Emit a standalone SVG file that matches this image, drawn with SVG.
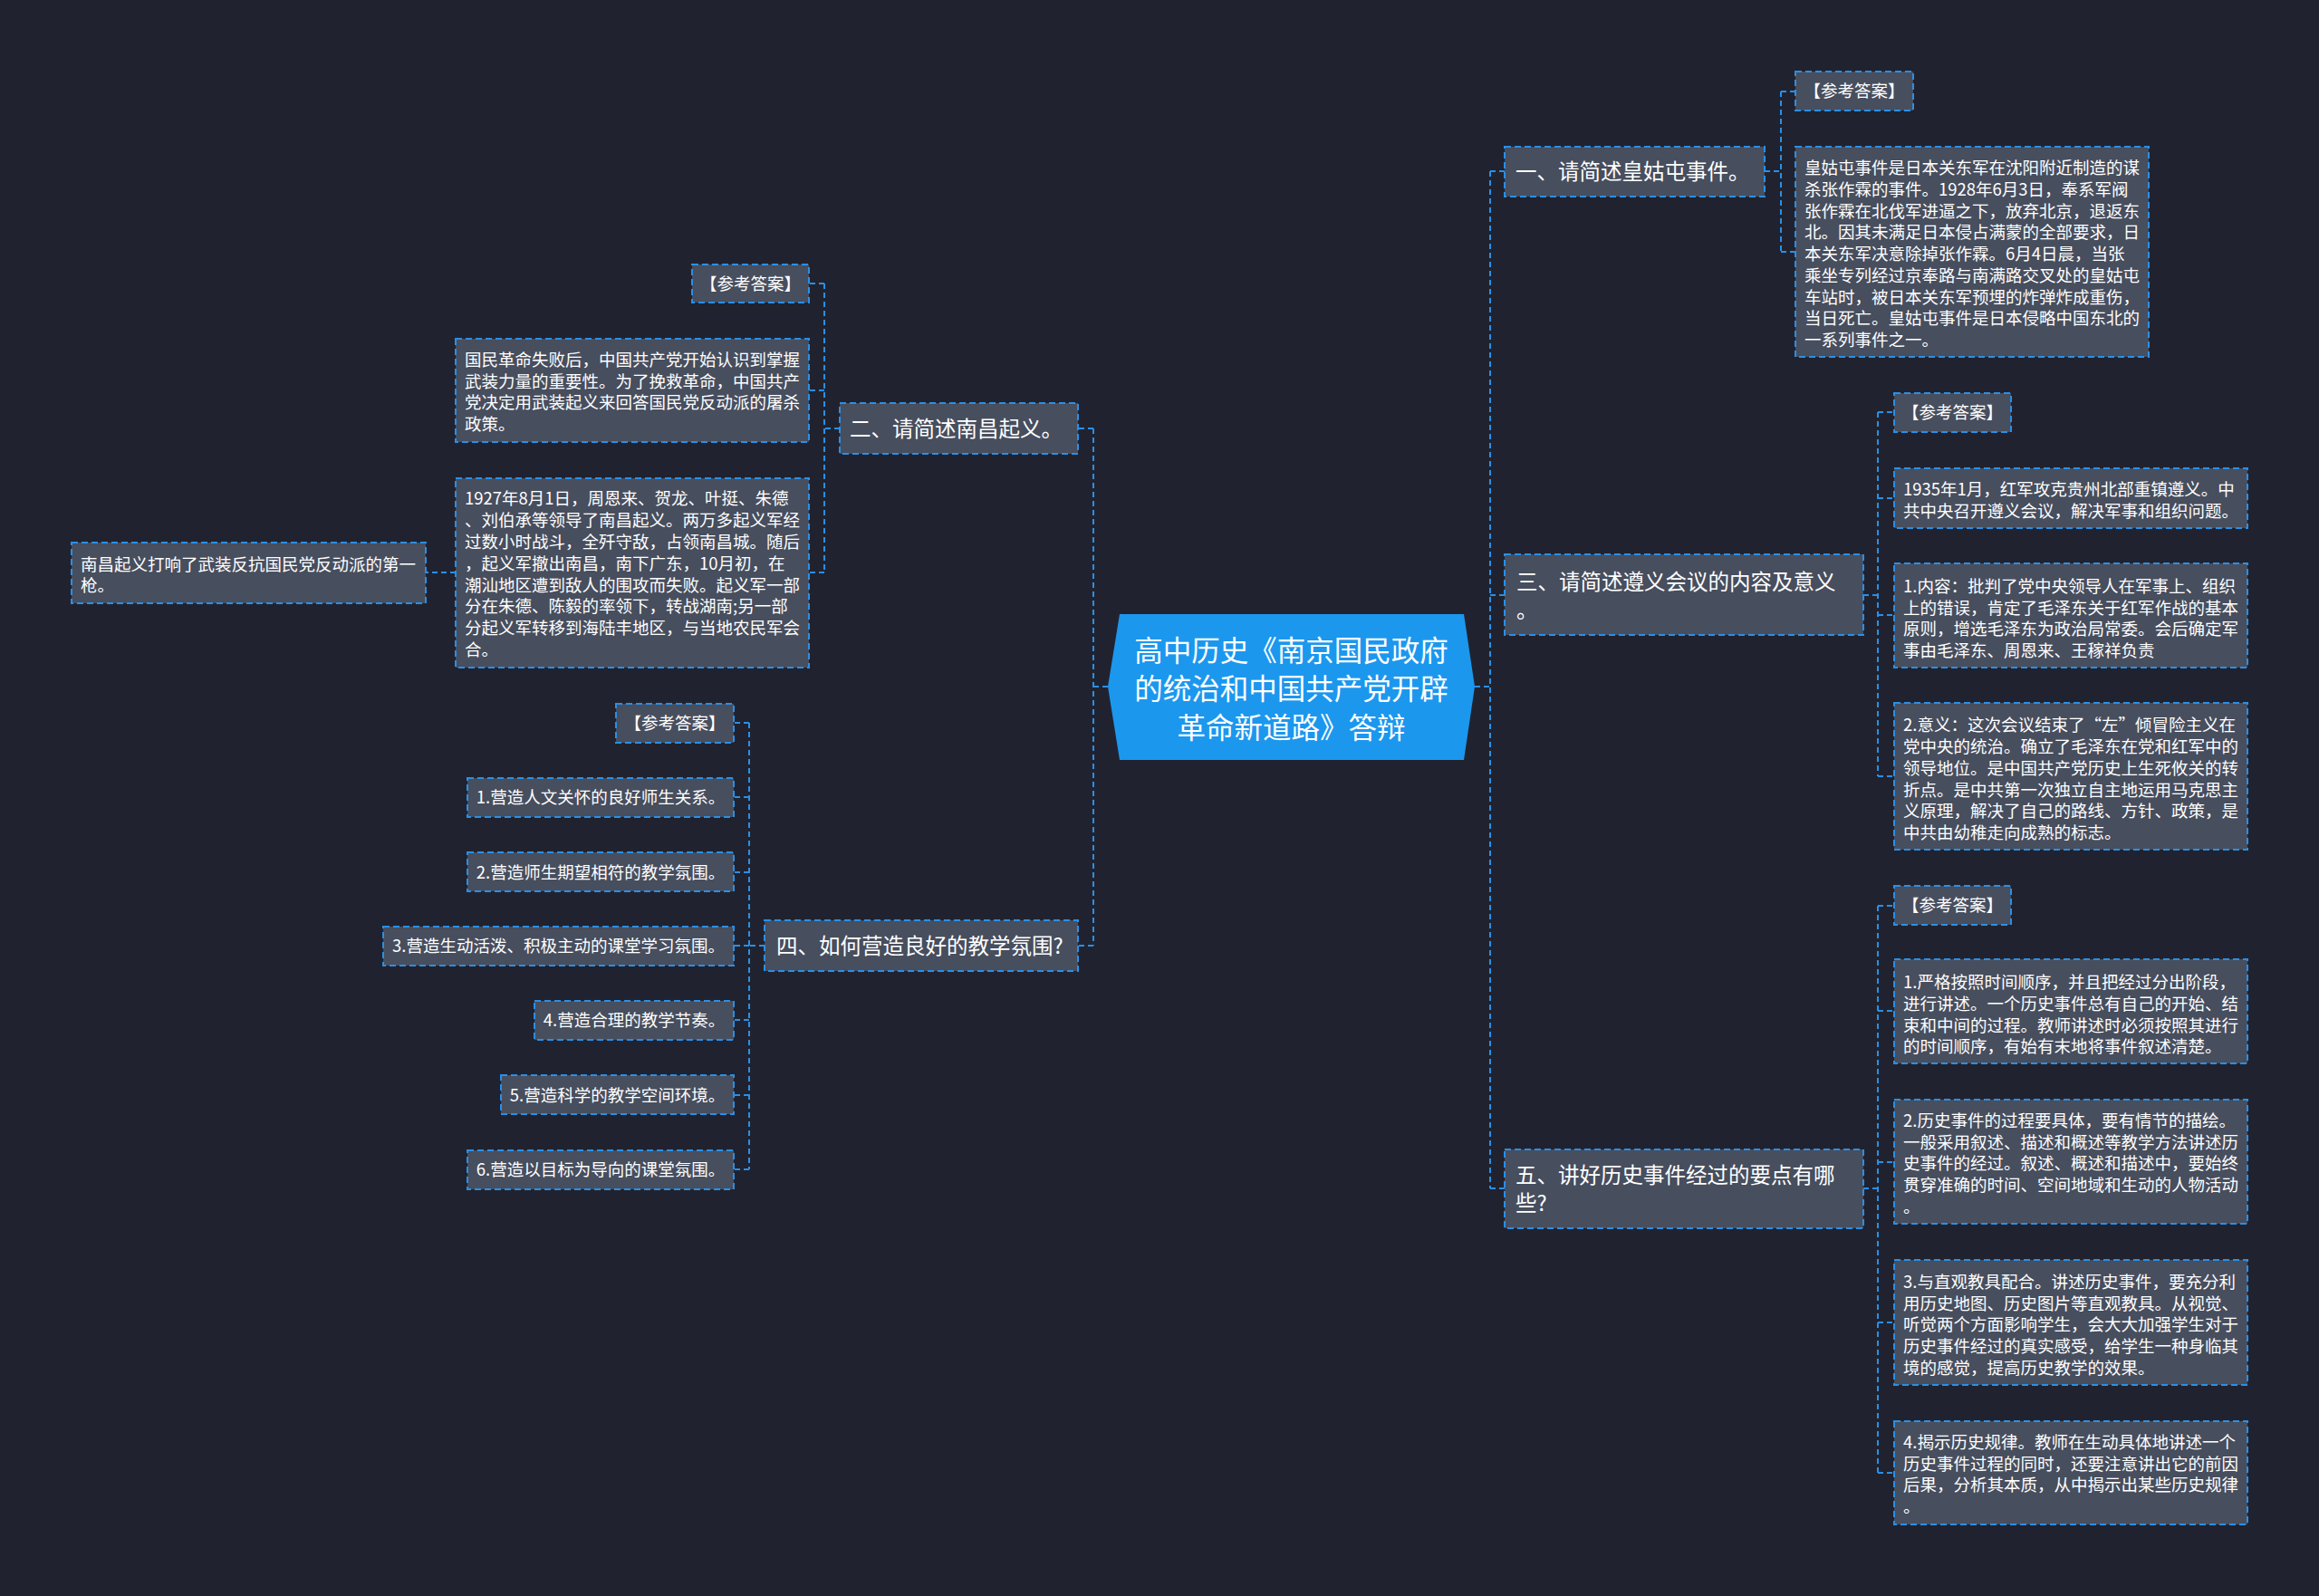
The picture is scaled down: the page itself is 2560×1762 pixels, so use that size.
<svg xmlns="http://www.w3.org/2000/svg" width="2560" height="1762" viewBox="0 0 2560 1762">
<defs>
<style>
.bg{fill:#20232f}
.box{fill:#474e5e;stroke:#2a8fe6;stroke-width:2;stroke-dasharray:7 4}
.con{fill:none;stroke:#2a8fe6;stroke-width:2;stroke-dasharray:6 4}
.t{font-family:"Noto Sans CJK SC","Noto Sans",sans-serif;fill:#ffffff}
.s{font-size:18.5px}
.m{font-size:23.5px}
.c{font-size:31.5px;text-anchor:middle}
.mid{text-anchor:middle}
</style>
</defs>
<rect class="bg" x="0" y="0" width="2560" height="1762"/>

<g id="connectors">
<path class="con" d="M1223 758H1207M1207 473V1044M1207 473H1190M1207 1044H1190"/>
<path class="con" d="M1628 758H1645M1645 189V1312M1645 189H1661M1645 657H1661M1645 1312H1661"/>
<path class="con" d="M927 473H910M910 313V632M910 313H893M910 431H893M910 632H893M503 632H470"/>
<path class="con" d="M844 1044H827M827 798V1291M827 798H810M827 880H810M827 963H810M827 1044H810M827 1126H810M827 1209H810M827 1291H810"/>
<path class="con" d="M1948 189H1966M1966 101V278M1966 101H1982M1966 278H1982"/>
<path class="con" d="M2057 657H2073M2073 455V857M2073 455H2091M2073 550H2091M2073 679H2091M2073 857H2091"/>
<path class="con" d="M2057 1312H2073M2073 1000V1626M2073 1000H2091M2073 1116H2091M2073 1283H2091M2073 1460H2091M2073 1626H2091"/>
</g>

<g id="root">
<polygon points="1223,758 1236,678 1616,678 1628,758 1616,839 1236,839" fill="#1c97ee"/>
<text class="t c" x="1425.5" y="730">高中历史《南京国民政府</text>
<text class="t c" x="1425.5" y="772">的统治和中国共产党开辟</text>
<text class="t c" x="1425.5" y="815">革命新道路》答辩</text>
</g>

<!-- Left: 二 -->
<g id="n2">
<rect class="box" x="927" y="445" width="263" height="56"/>
<text class="t m" x="938" y="482">二、请简述南昌起义。</text>
</g>
<g id="n2a">
<rect class="box" x="764" y="292" width="129" height="42"/>
<text class="t s mid" x="828.5" y="320">【参考答案】</text>
</g>
<g id="n2b">
<rect class="box" x="503" y="374" width="390" height="114"/>
<text class="t s" x="513" y="404">国民革命失败后，中国共产党开始认识到掌握</text>
<text class="t s" x="513" y="428">武装力量的重要性。为了挽救革命，中国共产</text>
<text class="t s" x="513" y="451">党决定用武装起义来回答国民党反动派的屠杀</text>
<text class="t s" x="513" y="475">政策。</text>
</g>
<g id="n2c">
<rect class="box" x="503" y="528" width="390" height="209"/>
<text class="t s" x="513" y="557">1927年8月1日，周恩来、贺龙、叶挺、朱德</text>
<text class="t s" x="513" y="581">、刘伯承等领导了南昌起义。两万多起义军经</text>
<text class="t s" x="513" y="605">过数小时战斗，全歼守敌，占领南昌城。随后</text>
<text class="t s" x="513" y="629">，起义军撤出南昌，南下广东，10月初，在</text>
<text class="t s" x="513" y="653">潮汕地区遭到敌人的围攻而失败。起义军一部</text>
<text class="t s" x="513" y="676">分在朱德、陈毅的率领下，转战湖南;另一部</text>
<text class="t s" x="513" y="700">分起义军转移到海陆丰地区，与当地农民军会</text>
<text class="t s" x="513" y="724">合。</text>
</g>
<g id="n2c1">
<rect class="box" x="79" y="599" width="391" height="67"/>
<text class="t s" x="89" y="630">南昌起义打响了武装反抗国民党反动派的第一</text>
<text class="t s" x="89" y="653">枪。</text>
</g>

<!-- Left: 四 -->
<g id="n4">
<rect class="box" x="844" y="1016" width="346" height="56"/>
<text class="t m" x="857" y="1053">四、如何营造良好的教学氛围?</text>
</g>
<g id="n4a">
<rect class="box" x="680" y="777" width="130" height="43"/>
<text class="t s mid" x="745" y="805">【参考答案】</text>
</g>
<g id="n4b">
<rect class="box" x="516" y="859" width="294" height="43"/>
<text class="t s mid" x="663" y="887">1.营造人文关怀的良好师生关系。</text>
</g>
<g id="n4c">
<rect class="box" x="516" y="941" width="294" height="43"/>
<text class="t s mid" x="663" y="970">2.营造师生期望相符的教学氛围。</text>
</g>
<g id="n4d">
<rect class="box" x="423" y="1023" width="387" height="43"/>
<text class="t s mid" x="616.5" y="1051">3.营造生动活泼、积极主动的课堂学习氛围。</text>
</g>
<g id="n4e">
<rect class="box" x="590" y="1105" width="220" height="43"/>
<text class="t s mid" x="700" y="1133">4.营造合理的教学节奏。</text>
</g>
<g id="n4f">
<rect class="box" x="553" y="1187" width="257" height="43"/>
<text class="t s mid" x="681.5" y="1216">5.营造科学的教学空间环境。</text>
</g>
<g id="n4g">
<rect class="box" x="516" y="1270" width="294" height="43"/>
<text class="t s mid" x="663" y="1298">6.营造以目标为导向的课堂氛围。</text>
</g>

<!-- Right: 一 -->
<g id="n1">
<rect class="box" x="1661" y="162" width="287" height="55"/>
<text class="t m" x="1673" y="198">一、请简述皇姑屯事件。</text>
</g>
<g id="n1a">
<rect class="box" x="1982" y="79" width="130" height="43"/>
<text class="t s mid" x="2047" y="107">【参考答案】</text>
</g>
<g id="n1b">
<rect class="box" x="1982" y="162" width="390" height="232"/>
<text class="t s" x="1992" y="192">皇姑屯事件是日本关东军在沈阳附近制造的谋</text>
<text class="t s" x="1992" y="216">杀张作霖的事件。1928年6月3日，奉系军阀</text>
<text class="t s" x="1992" y="240">张作霖在北伐军进逼之下，放弃北京，退返东</text>
<text class="t s" x="1992" y="263">北。因其未满足日本侵占满蒙的全部要求，日</text>
<text class="t s" x="1992" y="287">本关东军决意除掉张作霖。6月4日晨，当张</text>
<text class="t s" x="1992" y="311">乘坐专列经过京奉路与南满路交叉处的皇姑屯</text>
<text class="t s" x="1992" y="335">车站时，被日本关东军预埋的炸弹炸成重伤，</text>
<text class="t s" x="1992" y="358">当日死亡。皇姑屯事件是日本侵略中国东北的</text>
<text class="t s" x="1992" y="382">一系列事件之一。</text>
</g>

<!-- Right: 三 -->
<g id="n3">
<rect class="box" x="1661" y="612" width="396" height="89"/>
<text class="t m" x="1674" y="651">三、请简述遵义会议的内容及意义</text>
<text class="t m" x="1674" y="682">。</text>
</g>
<g id="n3a">
<rect class="box" x="2091" y="434" width="129" height="43"/>
<text class="t s mid" x="2155.5" y="462">【参考答案】</text>
</g>
<g id="n3b">
<rect class="box" x="2091" y="517" width="390" height="66"/>
<text class="t s" x="2101" y="547">1935年1月，红军攻克贵州北部重镇遵义。中</text>
<text class="t s" x="2101" y="571">共中央召开遵义会议，解决军事和组织问题。</text>
</g>
<g id="n3c">
<rect class="box" x="2091" y="622" width="390" height="115"/>
<text class="t s" x="2101" y="654">1.内容：批判了党中央领导人在军事上、组织</text>
<text class="t s" x="2101" y="678">上的错误，肯定了毛泽东关于红军作战的基本</text>
<text class="t s" x="2101" y="701">原则，增选毛泽东为政治局常委。会后确定军</text>
<text class="t s" x="2101" y="725">事由毛泽东、周恩来、王稼祥负责</text>
</g>
<g id="n3d">
<rect class="box" x="2091" y="776" width="390" height="162"/>
<text class="t s" x="2101" y="807">2.意义：这次会议结束了“左”倾冒险主义在</text>
<text class="t s" x="2101" y="831">党中央的统治。确立了毛泽东在党和红军中的</text>
<text class="t s" x="2101" y="855">领导地位。是中国共产党历史上生死攸关的转</text>
<text class="t s" x="2101" y="879">折点。是中共第一次独立自主地运用马克思主</text>
<text class="t s" x="2101" y="902">义原理，解决了自己的路线、方针、政策，是</text>
<text class="t s" x="2101" y="926">中共由幼稚走向成熟的标志。</text>
</g>

<!-- Right: 五 -->
<g id="n5">
<rect class="box" x="1661" y="1269" width="396" height="87"/>
<text class="t m" x="1673" y="1306">五、讲好历史事件经过的要点有哪</text>
<text class="t m" x="1673" y="1337">些?</text>
</g>
<g id="n5a">
<rect class="box" x="2091" y="978" width="129" height="43"/>
<text class="t s mid" x="2155.5" y="1006">【参考答案】</text>
</g>
<g id="n5b">
<rect class="box" x="2091" y="1059" width="390" height="115"/>
<text class="t s" x="2101" y="1091">1.严格按照时间顺序，并且把经过分出阶段，</text>
<text class="t s" x="2101" y="1115">进行讲述。一个历史事件总有自己的开始、结</text>
<text class="t s" x="2101" y="1139">束和中间的过程。教师讲述时必须按照其进行</text>
<text class="t s" x="2101" y="1162">的时间顺序，有始有末地将事件叙述清楚。</text>
</g>
<g id="n5c">
<rect class="box" x="2091" y="1214" width="390" height="137"/>
<text class="t s" x="2101" y="1244">2.历史事件的过程要具体，要有情节的描绘。</text>
<text class="t s" x="2101" y="1268">一般采用叙述、描述和概述等教学方法讲述历</text>
<text class="t s" x="2101" y="1291">史事件的经过。叙述、概述和描述中，要始终</text>
<text class="t s" x="2101" y="1315">贯穿准确的时间、空间地域和生动的人物活动</text>
<text class="t s" x="2101" y="1339">。</text>
</g>
<g id="n5d">
<rect class="box" x="2091" y="1391" width="390" height="138"/>
<text class="t s" x="2101" y="1422">3.与直观教具配合。讲述历史事件，要充分利</text>
<text class="t s" x="2101" y="1446">用历史地图、历史图片等直观教具。从视觉、</text>
<text class="t s" x="2101" y="1469">听觉两个方面影响学生，会大大加强学生对于</text>
<text class="t s" x="2101" y="1493">历史事件经过的真实感受，给学生一种身临其</text>
<text class="t s" x="2101" y="1517">境的感觉，提高历史教学的效果。</text>
</g>
<g id="n5e">
<rect class="box" x="2091" y="1569" width="390" height="114"/>
<text class="t s" x="2101" y="1599">4.揭示历史规律。教师在生动具体地讲述一个</text>
<text class="t s" x="2101" y="1623">历史事件过程的同时，还要注意讲出它的前因</text>
<text class="t s" x="2101" y="1646">后果，分析其本质，从中揭示出某些历史规律</text>
<text class="t s" x="2101" y="1670">。</text>
</g>
</svg>
